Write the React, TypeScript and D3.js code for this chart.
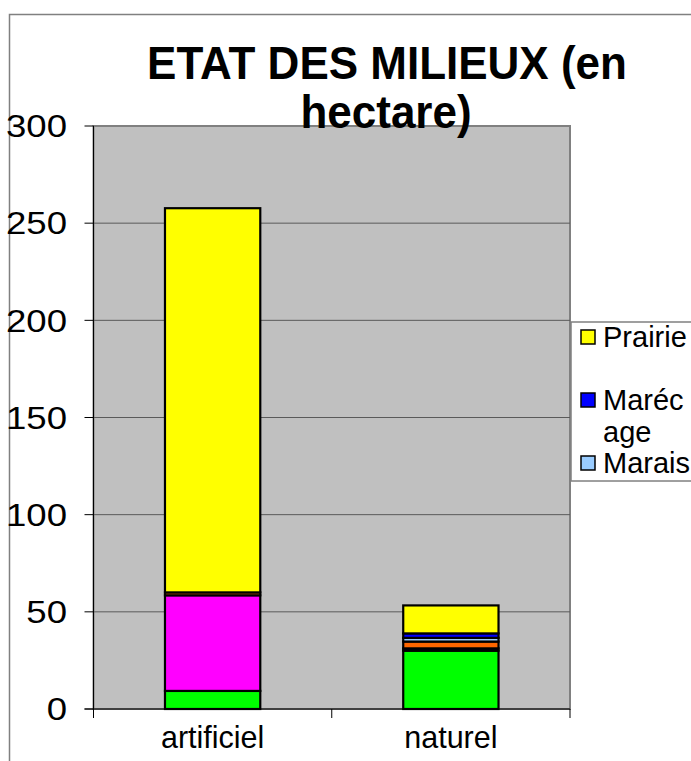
import React from 'react';
import * as d3 from 'd3';

// catégories et séries (de bas en haut dans la pile)
const categories = ['artificiel', 'naturel'];
const seriesNames = ['Forêt', 'Culture', 'Friche', 'Mare', 'Marais', 'Marécage', 'Prairie'];
const seriesColors = ['#00ff00', '#ff00ff', '#000080', '#ff6600', '#99ccff', '#0000ff', '#ffff00'];

const foret = [9.3, 30];
const culture = [49.2, 0];
const friche = [0, 1.2];
const mare = [1.5, 3.5];
const marais = [0, 1.9];
const marecage = [0, 2.3];
const prairie = [197.7, 14.4];

const yTicks = [0, 50, 100, 150, 200, 250, 300];
// légende coupée, comme dans l'original
const legendLabels = [['Prairie', ''], ['Maréc', 'age'], ['Marais'], ['Mare'], ['Friche']];

const W = 691;
const H = 761;
const FONT = '"Liberation Sans", Arial, sans-serif';

const App: React.FC = () => {
  const plot = { left: 93.5, right: 570, top: 126, bottom: 709 };

  const values = [foret, culture, friche, mare, marais, marecage, prairie];
  const rows = categories.map((c, i) => {
    const r: any = { cat: c };
    seriesNames.forEach((s, j) => { r[s] = values[j][i]; });
    return r;
  });
  const stacked = d3.stack<any>().keys(seriesNames)(rows);

  const x = d3.scaleBand()
    .domain(categories)
    .range([plot.left, plot.right])
    .paddingInner(0.6)
    .paddingOuter(0.3);

  const y = d3.scaleLinear()
    .domain([0, 300])
    .range([plot.bottom, plot.top]);

  const step = x.step();
  const boundaries = d3.range(categories.length + 1).map(i => plot.left + i * step);

  const legend = { x: 571, y: 322, w: 200, h: 159 };
  const lineH = 31.5;
  let line = 0;

  return (
    <svg width={W} height={H} style={{ position: 'absolute', left: 0, top: 0, background: '#fff' }}>
      <defs>
        <clipPath id="legClip">
          <rect x={legend.x} y={legend.y} width={legend.w} height={legend.h} />
        </clipPath>
      </defs>

      {/* cadre du graphique */}
      <path d={`M9.5,${H} V14.5 H${W}`} fill="none" stroke="#808080" strokeWidth={1.5} />

      {/* zone de traçage */}
      <rect x={plot.left} y={plot.top} width={plot.right - plot.left} height={plot.bottom - plot.top}
        fill="#c0c0c0" stroke="#808080" strokeWidth={2} />

      {yTicks.filter(t => t > 0 && t < 300).map(t => (
        <line key={t} x1={plot.left} x2={plot.right} y1={y(t)} y2={y(t)} stroke="#5a5a5a" strokeWidth={1} />
      ))}

      {/* barres empilées */}
      {stacked.map((layer, j) => (
        <g key={layer.key} fill={seriesColors[j]} stroke="#000" strokeWidth={2.2}>
          {layer.map((d, i) => d[1] - d[0] > 0 ? (
            <rect key={i} x={x(categories[i])} width={x.bandwidth()}
              y={y(d[1])} height={y(d[0]) - y(d[1])} />
          ) : null)}
        </g>
      ))}

      {/* axes */}
      <line x1={plot.left} x2={plot.left} y1={plot.top} y2={plot.bottom} stroke="#000" strokeWidth={1} />
      <line x1={plot.left - 9} x2={plot.right} y1={plot.bottom} y2={plot.bottom} stroke="#000" strokeWidth={1} />
      {yTicks.map(t => (
        <g key={t}>
          <line x1={plot.left - 9} x2={plot.left} y1={y(t)} y2={y(t)} stroke="#000" strokeWidth={1} />
          <text transform={`translate(67,${y(t)}) scale(1.18,1)`} dy="0.36em" textAnchor="end"
            fontFamily={FONT} fontSize={31}>{t}</text>
        </g>
      ))}
      {boundaries.map((b, i) => (
        <line key={i} x1={b} x2={b} y1={plot.bottom} y2={plot.bottom + 9} stroke="#000" strokeWidth={1} />
      ))}
      {categories.map(c => (
        <text key={c} x={(x(c) ?? 0) + x.bandwidth() / 2} y={748} textAnchor="middle"
          fontFamily={FONT} fontSize={30.5}>{c}</text>
      ))}

      {/* titre */}
      <g fontFamily={FONT} fontSize={44} fontWeight="bold" textAnchor="middle">
        <text transform="translate(387,79) scale(1,1.06)">ETAT DES MILIEUX (en</text>
        <text transform="translate(386,128) scale(1,1.06)">hectare)</text>
      </g>

      {/* légende */}
      <rect x={legend.x} y={legend.y} width={legend.w} height={legend.h} fill="#fff" stroke="#808080" strokeWidth={1.5} />
      <g clipPath="url(#legClip)">
        {legendLabels.map((lines, k) => {
          const color = seriesColors[seriesColors.length - 1 - k];
          const cy = legend.y + 15 + line * lineH;
          line += lines.length;
          return (
            <g key={k}>
              <rect x={581} y={cy - 7} width={14} height={14} fill={color} stroke="#000" strokeWidth={1.5} />
              {lines.map((t, m) => (
                <text key={m} x={603} y={cy + m * lineH} dy="0.36em" fontFamily={FONT} fontSize={29}>{t}</text>
              ))}
            </g>
          );
        })}
      </g>
    </svg>
  );
};

export default App;
